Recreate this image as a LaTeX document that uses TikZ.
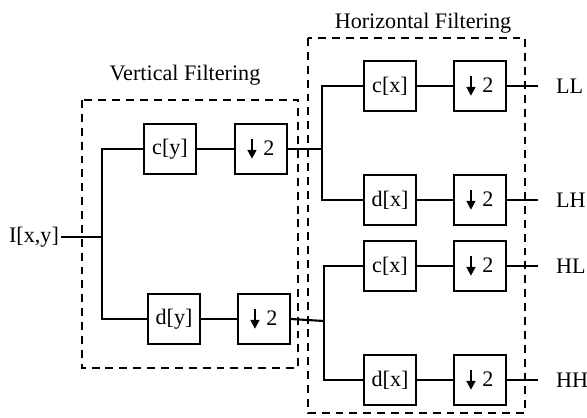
\documentclass[tikz,border=0pt]{standalone}
\usepackage{fontspec}
\setmainfont{Liberation Serif}
\usetikzlibrary{arrows.meta}
\newcommand{\dnarrow}{\tikz[baseline=0pt]\draw[line width=1.1pt,-{Triangle[width=5pt,length=5pt]}] (0,0.74em) -- (0,-0.14em);}
\newcommand{\down}{\dnarrow\hspace{4pt}2}

\begin{document}
\begin{tikzpicture}[x=0.02cm,y=-0.02cm,
        every node/.style={font=\fontsize{12.6}{15}\selectfont},
        filt/.style={draw,line width=0.9pt,minimum width=1.04cm,minimum height=1cm,inner sep=0pt},
        txt/.style={inner sep=1pt},
        wire/.style={line width=1.2pt},
        stage/.style={line width=1.1pt,dash pattern=on 4.5pt off 3.4pt}]
        \useasboundingbox (0,0) rectangle (587,418);

        % dashed stages
        \draw[stage] (82,100) rectangle (298,368);
        \draw[stage] (308,38) rectangle (525,413);
        \node (vlab) at (185,75) {Vertical Filtering};
        \node (hlab) at (423,23) {Horizontal Filtering};

        % vertical filtering
        \node[txt,anchor=east] (in) at (61,237) {I[x,y]};
        \coordinate (vj) at (102,237);
        \node[filt] (cy) at (170,149) {c[y]};
        \node[filt] (dsy1) at (261,149) {\down};
        \node[filt] (dy) at (174,319) {d[y]};
        \node[filt] (dsy2) at (264,319) {\down};
        \coordinate (hj1) at (322,149);
        \coordinate (hj2) at (324,321);

        \draw[wire] (in.east) -- (vj);
        \draw[wire] (cy.west) -| (vj) |- (dy.west);
        \draw[wire] (cy) -- (dsy1);
        \draw[wire] (dy) -- (dsy2);
        \draw[wire] (dsy1.east) -- (hj1);
        \draw[wire] (dsy2.east) -- (hj2);

        % horizontal filtering
        \node[filt] (cx1) at (390,86) {c[x]};
        \node[filt] (ds1) at (480,86) {\down};
        \node[filt] (dx1) at (390,200) {d[x]};
        \node[filt] (ds2) at (480,200) {\down};
        \node[filt] (cx2) at (390,266) {c[x]};
        \node[filt] (ds3) at (480,266) {\down};
        \node[filt] (dx2) at (390,380) {d[x]};
        \node[filt] (ds4) at (480,380) {\down};

        \draw[wire] (cx1.west) -| (hj1) |- (dx1.west);
        \draw[wire] (cx2.west) -| (hj2) |- (dx2.west);
        \draw[wire] (cx1) -- (ds1);
        \draw[wire] (dx1) -- (ds2);
        \draw[wire] (cx2) -- (ds3);
        \draw[wire] (dx2) -- (ds4);

        % outputs
        \coordinate (oLL) at (538,86);
        \coordinate (oLH) at (538,200);
        \coordinate (oHL) at (538,266);
        \coordinate (oHH) at (538,380);
        \draw[wire] (ds1.east) -- (oLL);
        \draw[wire] (ds2.east) -- (oLH);
        \draw[wire] (ds3.east) -- (oHL);
        \draw[wire] (ds4.east) -- (oHH);
        \node[txt,anchor=west] (LL) at (554,86) {LL};
        \node[txt,anchor=west] (LH) at (554,200) {LH};
        \node[txt,anchor=west] (HL) at (554,266) {HL};
        \node[txt,anchor=west] (HH) at (554,380) {HH};
\end{tikzpicture}
\end{document}
